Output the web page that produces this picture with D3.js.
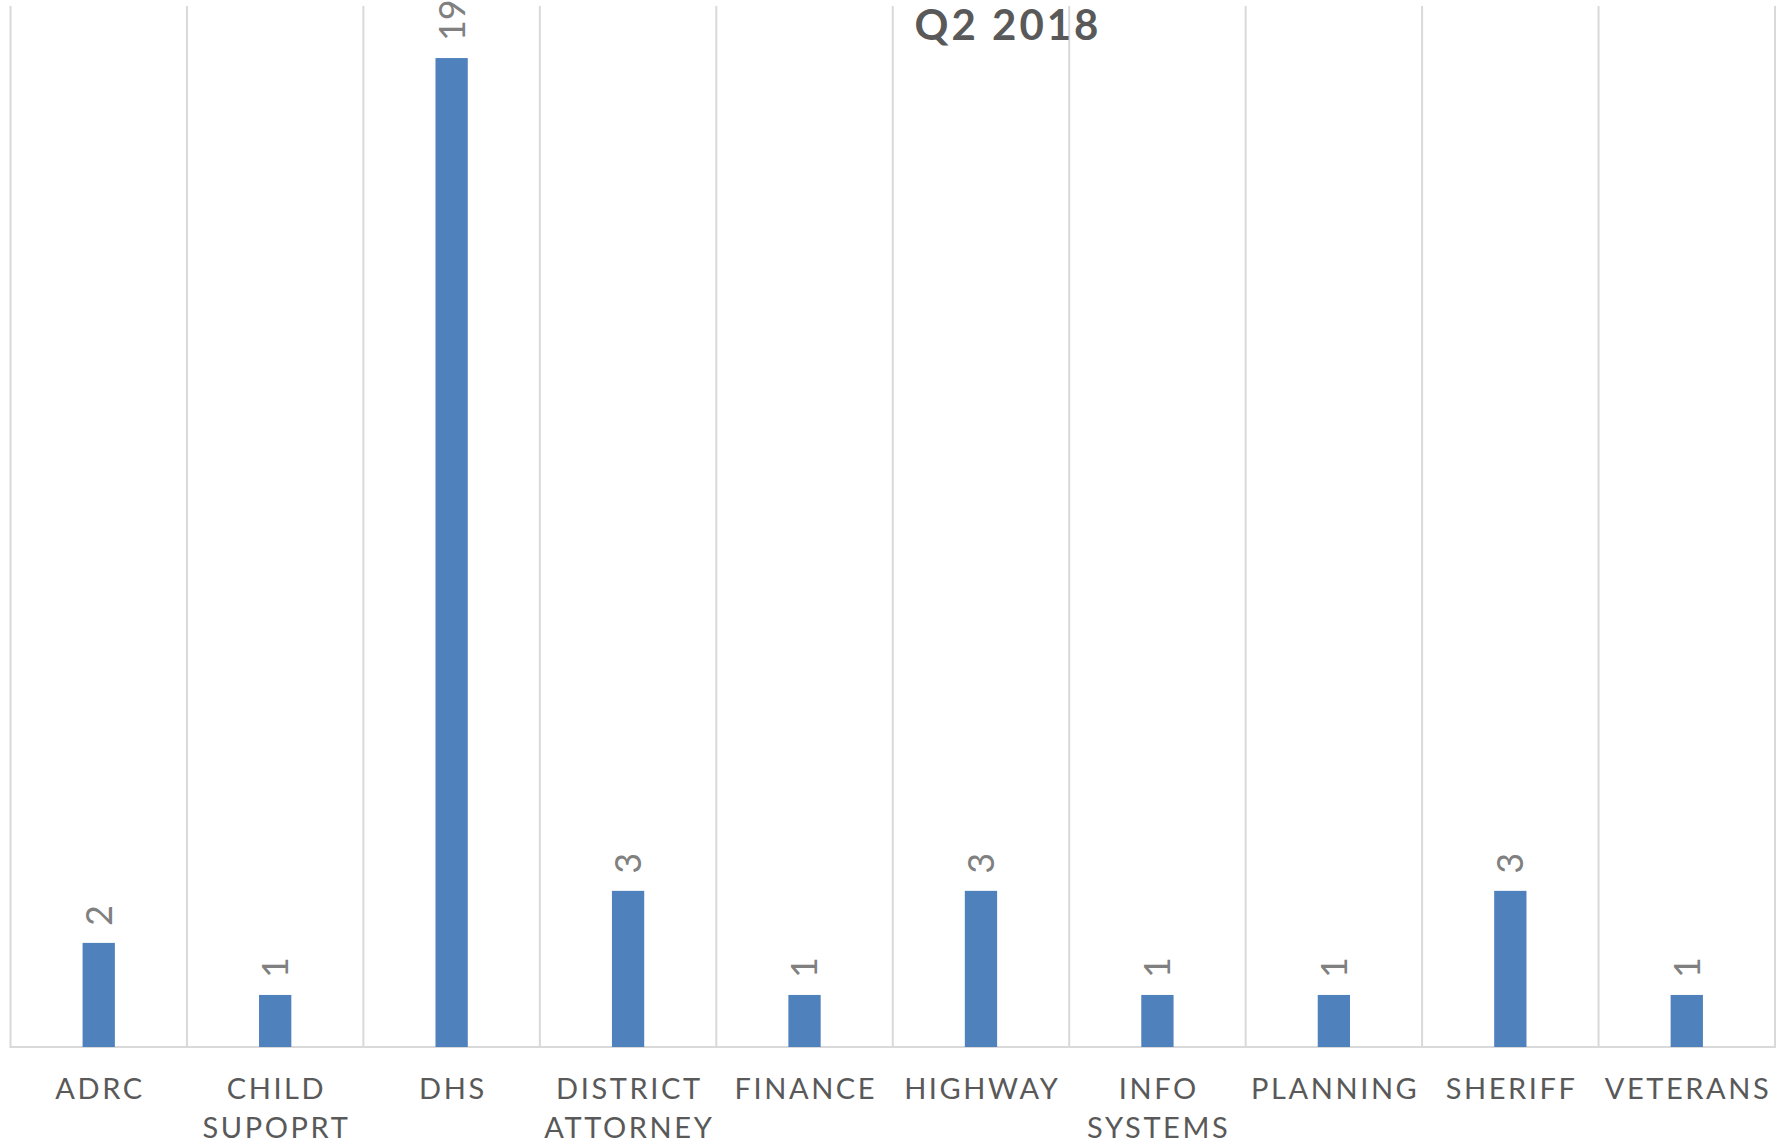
<!DOCTYPE html>
<html>
<head>
<meta charset="utf-8">
<script src="https://cdn.jsdelivr.net/npm/d3@7/dist/d3.min.js"></script>
<style>
  html, body { margin: 0; padding: 0; background: #ffffff; }
  svg { display: block; }
</style>
</head>
<body>
<svg id="chart" width="1781" height="1147"></svg>
<script>
// ---- data ----
const title = "Q2 2018";
const categories = ["ADRC", "CHILD SUPOPRT", "DHS", "DISTRICT ATTORNEY", "FINANCE", "HIGHWAY", "INFO SYSTEMS", "PLANNING", "SHERIFF", "VETERANS"];
const values = [2, 1, 19, 3, 1, 3, 1, 1, 3, 1];
const yDomain = [0, 20];

// ---- layout ----
const W = 1781, H = 1147;
const plot = { left: 10.5, right: 1775, top: 6, bottom: 1047 };
const svg = d3.select("#chart");

const x = d3.scaleBand().domain(categories).range([plot.left, plot.right]).padding(0);
const xBar = d3.scaleBand().domain(categories).range([plot.left, plot.right])
  .paddingInner(0.817).paddingOuter(0.817 / 2);
const y = d3.scaleLinear().domain(yDomain).range([plot.bottom, plot.top]);

const gridColor = "#d9d9d9";

// vertical category gridlines (band boundaries)
const boundaries = categories.map(c => x(c)).concat([x(categories[categories.length - 1]) + x.bandwidth()]);
svg.append("g").selectAll("line").data(boundaries).join("line")
  .attr("x1", d => d).attr("x2", d => d)
  .attr("y1", plot.top).attr("y2", plot.bottom)
  .attr("stroke", gridColor).attr("stroke-width", 2);

// baseline
svg.append("line")
  .attr("x1", plot.left - 1).attr("x2", plot.right + 1)
  .attr("y1", y(0)).attr("y2", y(0))
  .attr("stroke", gridColor).attr("stroke-width", 2);

// bars
svg.append("g").selectAll("rect").data(categories).join("rect")
  .attr("x", c => xBar(c))
  .attr("width", xBar.bandwidth())
  .attr("y", (c, i) => y(values[i]))
  .attr("height", (c, i) => y(0) - y(values[i]))
  .attr("fill", "#4f81bd");

// value labels (rotated)
svg.append("g").selectAll("text").data(categories).join("text")
  .attr("transform", (c, i) => `translate(${xBar(c) + xBar.bandwidth() / 2},${y(values[i]) - 17}) rotate(-90)`)
  .attr("dy", "0.36em")
  .attr("text-anchor", "start")
  .attr("font-family", "Lato, 'Open Sans', sans-serif")
  .attr("font-size", 36)
  .attr("fill", "#808080")
  .text((c, i) => values[i]);

// category labels
const ls = 2.6;
const labels = svg.append("g").selectAll("text").data(categories).join("text")
  .attr("x", c => x(c) + x.bandwidth() / 2 + ls / 2)
  .attr("y", 1098.5)
  .attr("text-anchor", "middle")
  .attr("font-family", "Lato, 'Open Sans', sans-serif")
  .attr("font-size", 29)
  .attr("letter-spacing", ls)
  .attr("fill", "#595959");
labels.each(function (c) {
  const t = d3.select(this);
  c.split(" ").forEach((w, i) => {
    t.append("tspan")
      .attr("x", x(c) + x.bandwidth() / 2 + ls / 2)
      .attr("dy", i === 0 ? 0 : 39.5)
      .text(w);
  });
});

// title
svg.append("text")
  .attr("x", 1008)
  .attr("y", 39.5)
  .attr("text-anchor", "middle")
  .attr("font-family", "Lato, 'Open Sans', sans-serif")
  .attr("font-weight", "bold")
  .attr("font-size", 42)
  .attr("letter-spacing", 3)
  .attr("fill", "#595959")
  .text(title);
</script>
</body>
</html>
